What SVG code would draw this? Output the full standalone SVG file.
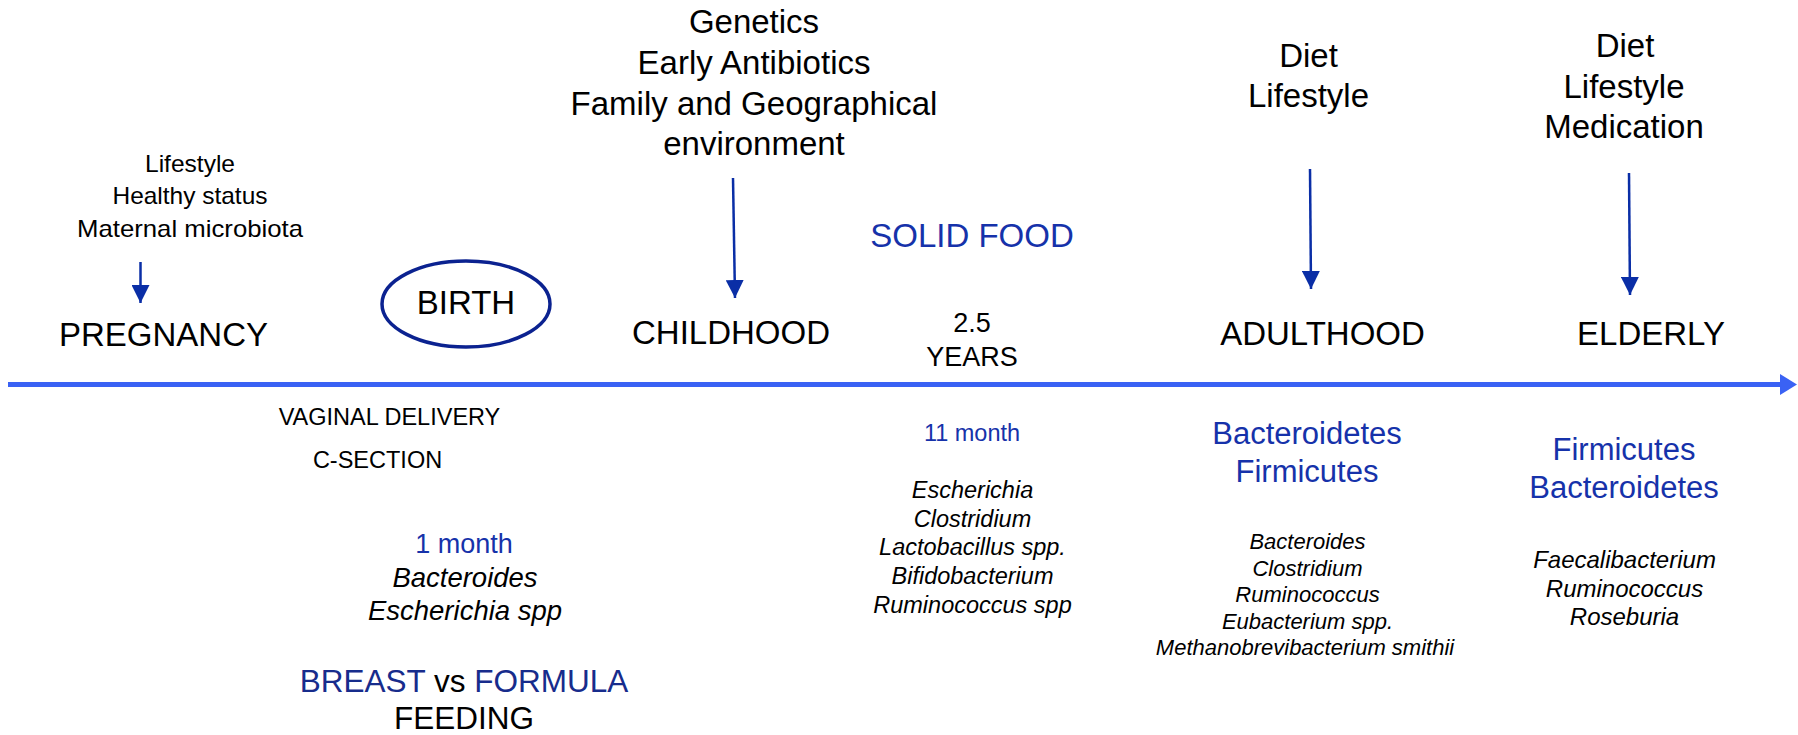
<svg xmlns="http://www.w3.org/2000/svg" width="1798" height="735" viewBox="0 0 1798 735">
<defs>
<style>
text{font-family:"Liberation Sans",Arial,sans-serif;fill:#000;text-anchor:middle}
.blue{fill:#1632aa}
.navy{fill:#172c8c}
.it{font-style:italic}
.stage{font-size:33px}
.fac{font-size:33px}
.conn{stroke:#0a2ea6;stroke-width:2.5;fill:none}
</style>
<marker id="ah" markerUnits="userSpaceOnUse" markerWidth="18" markerHeight="18" viewBox="0 0 16 16" refX="16" refY="8" orient="auto">
<path d="M0,0 L16,8 L0,16 Z" fill="#0a2ea6"/>
</marker>
</defs>
<rect width="1798" height="735" fill="#fff"/>

<g id="timeline">
<rect x="8" y="382" width="1774" height="5" fill="#3a62f4"/>
<path d="M1780,374 L1797,384.5 L1780,395 Z" fill="#3a62f4"/>
</g>

<g id="connectors">
<path class="conn" d="M140.5,262 L140.5,303" marker-end="url(#ah)"/>
<path class="conn" d="M733,178 L735,298" marker-end="url(#ah)"/>
<path class="conn" d="M1310,169 L1311,289" marker-end="url(#ah)"/>
<path class="conn" d="M1629,173 L1630,295" marker-end="url(#ah)"/>
</g>

<g id="pregnancy-factors">
<text x="190" y="172" font-size="24" textLength="90" lengthAdjust="spacingAndGlyphs">Lifestyle</text>
<text x="190" y="204" font-size="24" textLength="155" lengthAdjust="spacingAndGlyphs">Healthy status</text>
<text x="190" y="237" font-size="24" textLength="226" lengthAdjust="spacingAndGlyphs">Maternal microbiota</text>
</g>

<g id="pregnancy"><text class="stage" x="163.5" y="345.5">PREGNANCY</text></g>

<g id="birth">
<ellipse cx="466" cy="304" rx="84" ry="43" fill="none" stroke="#0b2290" stroke-width="3.5"/>
<text class="stage" x="466" y="314">BIRTH</text>
</g>

<g id="childhood-factors">
<text class="fac" x="754" y="33">Genetics</text>
<text class="fac" x="754" y="73.5">Early Antibiotics</text>
<text class="fac" x="754" y="114.5">Family and Geographical</text>
<text class="fac" x="754" y="155">environment</text>
</g>

<g id="childhood"><text class="stage" x="731" y="343.5">CHILDHOOD</text></g>

<g id="solid-food"><text class="blue" x="972" y="246.5" font-size="33">SOLID FOOD</text></g>

<g id="years">
<text x="972" y="331.5" font-size="27">2.5</text>
<text x="972" y="365.5" font-size="27">YEARS</text>
</g>

<g id="adulthood-factors">
<text class="fac" x="1308.5" y="66.5">Diet</text>
<text class="fac" x="1308.5" y="106.5">Lifestyle</text>
</g>

<g id="adulthood"><text class="stage" x="1322.5" y="345">ADULTHOOD</text></g>

<g id="elderly-factors">
<text class="fac" x="1625" y="56.5">Diet</text>
<text class="fac" x="1624" y="97.5">Lifestyle</text>
<text class="fac" x="1624" y="137.5">Medication</text>
</g>

<g id="elderly"><text class="stage" x="1651" y="345">ELDERLY</text></g>

<g id="delivery">
<text x="389.5" y="425" font-size="23.5">VAGINAL DELIVERY</text>
<text x="377.5" y="468" font-size="23.5">C-SECTION</text>
</g>

<g id="one-month">
<text class="blue" x="464" y="553" font-size="27">1 month</text>
<text class="it" x="465" y="586.5" font-size="27.5">Bacteroides</text>
<text class="it" x="465" y="619.5" font-size="27.5">Escherichia spp</text>
</g>

<g id="feeding">
<text x="464" y="691.5" font-size="31.5"><tspan class="navy">BREAST</tspan> vs <tspan class="navy">FORMULA</tspan></text>
<text x="464" y="729" font-size="31.5">FEEDING</text>
</g>

<g id="eleven-month">
<text class="blue" x="972" y="441" font-size="23.5">11 month</text>
<text class="it" x="972.5" y="498" font-size="23.5">Escherichia</text>
<text class="it" x="972.5" y="526.5" font-size="23.5">Clostridium</text>
<text class="it" x="972.5" y="555" font-size="23.5">Lactobacillus spp.</text>
<text class="it" x="972.5" y="584" font-size="23.5">Bifidobacterium</text>
<text class="it" x="972.5" y="612.5" font-size="23.5">Ruminococcus spp</text>
</g>

<g id="adult-microbiota">
<text class="blue" x="1307" y="444" font-size="31">Bacteroidetes</text>
<text class="blue" x="1307" y="481.5" font-size="31">Firmicutes</text>
<text class="it" x="1307.5" y="549" font-size="22">Bacteroides</text>
<text class="it" x="1307.5" y="575.5" font-size="22">Clostridium</text>
<text class="it" x="1307.5" y="602" font-size="22">Ruminococcus</text>
<text class="it" x="1307.5" y="628.5" font-size="22">Eubacterium spp.</text>
<text class="it" x="1305" y="655" font-size="22">Methanobrevibacterium smithii</text>
</g>

<g id="elderly-microbiota">
<text class="blue" x="1624" y="460" font-size="31">Firmicutes</text>
<text class="blue" x="1624" y="498" font-size="31">Bacteroidetes</text>
<text class="it" x="1624.5" y="567.5" font-size="24">Faecalibacterium</text>
<text class="it" x="1624.5" y="596.5" font-size="24">Ruminococcus</text>
<text class="it" x="1624.5" y="625" font-size="24">Roseburia</text>
</g>
</svg>
